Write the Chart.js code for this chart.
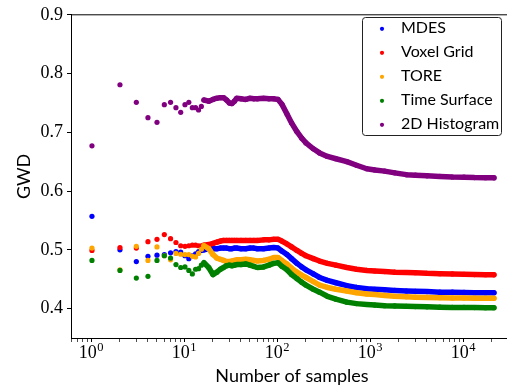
<!DOCTYPE html>
<html>
<head>
<meta charset="utf-8">
<script src="https://cdn.jsdelivr.net/npm/chart.js@4.4.0/dist/chart.umd.min.js"></script>
<style>
    html, body { margin: 0; padding: 0; background: #fff; overflow: hidden; }
    #wrap { position: relative; width: 520px; height: 389px; }
</style>
</head>
<body>
<div id="wrap"><canvas id="chart" width="520" height="389"></canvas></div>
<script>
/* ============================================================
   GWD vs number of samples
============================================================ */

// number of samples (x)
const SAMPLES = [
    1, 2, 3, 4, 5, 6, 7, 8, 9, 10, 11, 12, 13, 14, 15, 16,
    18, 20, 22, 24, 26, 28, 30, 32, 34, 36,
    40, 45, 50, 55, 60,
    70, 80, 90, 100,
    110, 125, 140, 160, 180, 200,
    240, 280, 340, 420, 550, 700, 900,
    1100, 1400, 1800, 2400, 3000, 4000, 5500, 7500,
    10000, 13000, 17000, 21000
];

const MDES = [
    0.557, 0.500, 0.480, 0.489, 0.491, 0.492, 0.495, 0.497, 0.496, 0.490, 0.485, 0.490, 0.493, 0.497, 0.499, 0.500,
    0.502, 0.502, 0.502, 0.503, 0.503, 0.503, 0.502, 0.502, 0.503, 0.503,
    0.502, 0.502, 0.503, 0.503, 0.502,
    0.502, 0.503, 0.504, 0.503,
    0.498, 0.492, 0.485, 0.477, 0.471, 0.466,
    0.459, 0.453, 0.448, 0.444, 0.439, 0.436, 0.434,
    0.433, 0.432, 0.431, 0.430, 0.4295, 0.429, 0.428, 0.428,
    0.4275, 0.427, 0.427, 0.427
];

const VOXEL_GRID = [
    0.499, 0.504, 0.503, 0.514, 0.518, 0.526, 0.519, 0.5125, 0.507, 0.506, 0.507, 0.508, 0.508, 0.507, 0.507, 0.508,
    0.509, 0.511, 0.513, 0.515, 0.516, 0.516, 0.516, 0.516, 0.516, 0.516,
    0.516, 0.516, 0.516, 0.516, 0.516,
    0.517, 0.517, 0.518, 0.518,
    0.515, 0.510, 0.505, 0.499, 0.494, 0.490,
    0.485, 0.481, 0.477, 0.474, 0.470, 0.467, 0.465,
    0.464, 0.463, 0.462, 0.4615, 0.461, 0.460, 0.4595, 0.459,
    0.4585, 0.458, 0.4577, 0.4575
];

const TORE = [
    0.503, 0.466, 0.506, 0.482, 0.505, 0.490, 0.483, 0.494, 0.4925, 0.492, 0.492, 0.489, 0.488, 0.494, 0.501, 0.507,
    0.502, 0.492, 0.486, 0.484, 0.482, 0.480, 0.480, 0.481, 0.482, 0.483,
    0.483, 0.484, 0.483, 0.482, 0.481,
    0.482, 0.484, 0.487, 0.487,
    0.482, 0.476, 0.469, 0.462, 0.457, 0.453,
    0.446, 0.440, 0.436, 0.433, 0.430, 0.427, 0.425,
    0.424, 0.4225, 0.421, 0.420, 0.4195, 0.419, 0.4185, 0.418,
    0.418, 0.4178, 0.4176, 0.4175
];

const TIME_SURFACE = [
    0.482, 0.465, 0.452, 0.455, 0.482, 0.490, 0.486, 0.475, 0.470, 0.471, 0.465, 0.459, 0.467, 0.468, 0.474, 0.478,
    0.470, 0.458, 0.462, 0.467, 0.470, 0.473, 0.474, 0.473, 0.474, 0.475,
    0.475, 0.476, 0.474, 0.472, 0.470,
    0.471, 0.474, 0.477, 0.478,
    0.472, 0.466, 0.458, 0.451, 0.445, 0.440,
    0.433, 0.428, 0.421, 0.416, 0.411, 0.4085, 0.407,
    0.406, 0.405, 0.4045, 0.404, 0.4035, 0.403, 0.4025, 0.402,
    0.402, 0.4018, 0.4016, 0.4015
];

const HIST_2D = [
    0.677, 0.781, 0.751, 0.725, 0.717, 0.747, 0.751, 0.742, 0.734, 0.747, 0.751, 0.742, 0.742, 0.738, 0.744, 0.755,
    0.753, 0.756, 0.758, 0.759, 0.759, 0.755, 0.750, 0.749, 0.753, 0.758,
    0.757, 0.756, 0.758, 0.757, 0.757,
    0.758, 0.757, 0.757, 0.756,
    0.748, 0.731, 0.716, 0.701, 0.690, 0.682,
    0.672, 0.665, 0.659, 0.655, 0.650, 0.644, 0.638,
    0.636, 0.634, 0.631, 0.628, 0.627, 0.626, 0.625, 0.624,
    0.6237, 0.623, 0.6228, 0.6225
];

const SERIES_NAMES = ["MDES", "Voxel Grid", "TORE", "Time Surface", "2D Histogram"];
const SERIES_COLORS = ["#0000ff", "#ff0000", "#ffa500", "#008000", "#800080"];
const SERIES_VALUES = [MDES, VOXEL_GRID, TORE, TIME_SURFACE, HIST_2D];

const Y_TICKS = [0.4, 0.5, 0.6, 0.7, 0.8, 0.9];
const X_EXPONENTS = [0, 1, 2, 3, 4];

const X_MIN = 0.595;
const X_MAX = 33650;
const DENSE_FROM = 16;   // from here the dots merge into a thick band

const SANS = "Lato";
const SERIF = "'Liberation Serif'";

/* Minor + major tick positions of the log axis */
function xTickValues() {
    const out = [];
    for (let e = -1; e <= 4; e++) {
        for (let m = 1; m <= 9; m++) {
            const v = m * Math.pow(10, e);
            if (v >= X_MIN && v <= X_MAX) out.push({ value: v, major: m === 1 });
        }
    }
    return out;
}

function buildDatasets() {
    return SERIES_NAMES.map((name, i) => {
        const color = SERIES_COLORS[i];
        return {
            label: name,
            data: SAMPLES.map((x, k) => ({ x, y: SERIES_VALUES[i][k] })),
            order: SERIES_NAMES.length - i,   // later series drawn on top
            showLine: true,
            borderColor: color,
            backgroundColor: color,
            borderWidth: 5.5,
            borderJoinStyle: "round",
            borderCapStyle: "round",
            pointRadius: 2.6,
            pointBorderWidth: 0,
            pointBackgroundColor: color,
            segment: {
                borderColor: ctx => ctx.p0.parsed.x < DENSE_FROM ? "rgba(0,0,0,0)" : color
            }
        };
    });
}

/* Top spine, 10^n labels and boxed legend */
const decorPlugin = {
    id: "decor",
    afterDraw(chart) {
        const ctx = chart.ctx;
        const area = chart.chartArea;
        const xs = chart.scales.x;

        ctx.save();

        // top spine
        ctx.strokeStyle = "#000";
        ctx.lineWidth = 1;
        ctx.beginPath();
        ctx.moveTo(area.left, area.top);
        ctx.lineTo(area.right, area.top);
        ctx.stroke();

        // x tick labels 10^n
        ctx.fillStyle = "#000";
        ctx.textBaseline = "alphabetic";
        ctx.textAlign = "left";
        for (const e of X_EXPONENTS) {
            const px = xs.getPixelForValue(Math.pow(10, e));
            ctx.font = `18px ${SERIF}`;
            const w1 = ctx.measureText("10").width;
            ctx.font = `12.5px ${SERIF}`;
            const w2 = ctx.measureText(String(e)).width;
            const x0 = px - (w1 + w2) / 2 - 1;
            ctx.font = `18px ${SERIF}`;
            ctx.fillText("10", x0, 358);
            ctx.font = `12.5px ${SERIF}`;
            ctx.fillText(String(e), x0 + w1 + 0.5, 351);
        }

        // legend
        const bx = 362.5, by = 17.5, bw = 139, bh = 118;
        ctx.fillStyle = "rgba(255,255,255,0.85)";
        ctx.strokeStyle = "#222";
        ctx.lineWidth = 1;
        ctx.beginPath();
        ctx.roundRect(bx, by, bw, bh, 3);
        ctx.fill();
        ctx.stroke();

        ctx.font = `16px ${SANS}`;
        SERIES_NAMES.forEach((name, i) => {
            const yDot = 28.8 + 24 * i;
            ctx.fillStyle = SERIES_COLORS[i];
            ctx.beginPath();
            ctx.arc(382, yDot, 2.1, 0, Math.PI * 2);
            ctx.fill();
            ctx.fillStyle = "#000";
            ctx.fillText(name, 401, 33.3 + 24 * i);
        });

        ctx.restore();
    }
};

function initChart() {
    const el = document.getElementById("chart");

    new Chart(el, {
        type: "scatter",
        data: { datasets: buildDatasets() },
        options: {
            responsive: false,
            animation: false,
            devicePixelRatio: 1,
            layout: { padding: { left: 0, right: 7, top: 8, bottom: 0 } },
            plugins: {
                legend: { display: false },
                tooltip: { enabled: false }
            },
            scales: {
                x: {
                    type: "logarithmic",
                    min: X_MIN,
                    max: X_MAX,
                    afterBuildTicks: s => { s.ticks = xTickValues(); },
                    afterFit: s => { s.height = 51; },
                    ticks: { display: false, autoSkip: false },
                    grid: {
                        drawOnChartArea: false,
                        drawTicks: true,
                        tickLength: 4,
                        tickColor: "#000",
                        tickWidth: c => (c.tick && c.tick.major ? 1 : 0.7)
                    },
                    border: { color: "#000", width: 1 },
                    title: {
                        display: true,
                        text: "Number of samples",
                        color: "#000",
                        font: { family: SANS, size: 18 },
                        padding: { top: 0, bottom: 2 }
                    }
                },
                y: {
                    min: 0.35,
                    max: 0.9,
                    afterBuildTicks: s => { s.ticks = Y_TICKS.map(v => ({ value: v })); },
                    afterFit: s => { s.width = 71; },
                    ticks: {
                        callback: v => Number(v).toFixed(1),
                        color: "#000",
                        font: { family: SERIF, size: 18 },
                        padding: 4
                    },
                    grid: {
                        drawOnChartArea: false,
                        tickLength: 4,
                        tickColor: "#000"
                    },
                    border: { color: "#000", width: 1 },
                    title: {
                        display: true,
                        text: "GWD",
                        color: "#000",
                        font: { family: SANS, size: 18 },
                        padding: { top: 13, bottom: 0 }
                    }
                }
            }
        },
        plugins: [decorPlugin]
    });
}

initChart();
</script>
</body>
</html>
